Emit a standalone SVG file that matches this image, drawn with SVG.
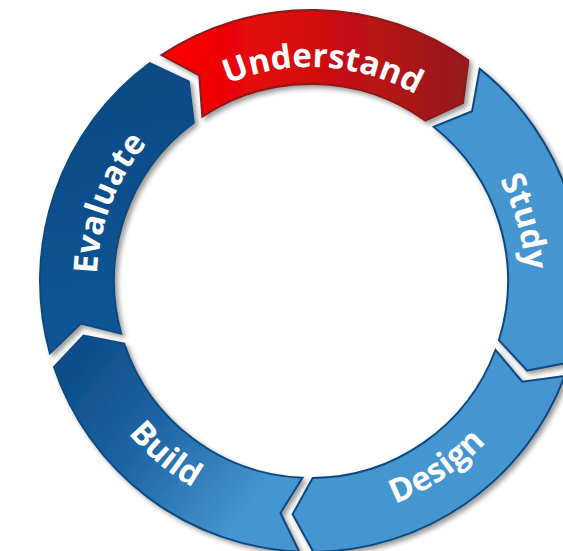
<svg xmlns="http://www.w3.org/2000/svg" width="563" height="551" viewBox="0 0 563 551">
<defs>
<filter id="sh" x="-10%" y="-10%" width="120%" height="120%">
<feDropShadow dx="3" dy="3" stdDeviation="2.5" flood-color="#000" flood-opacity="0.4"/>
</filter>
<linearGradient id="gRed" gradientUnits="userSpaceOnUse" x1="165" y1="0" x2="468" y2="0">
<stop offset="0" stop-color="#FF0000"/>
<stop offset="0.5" stop-color="#D00D10"/>
<stop offset="1" stop-color="#951B1E"/>
</linearGradient>
<linearGradient id="gBuild" gradientUnits="userSpaceOnUse" x1="70" y1="370" x2="250" y2="510">
<stop offset="0" stop-color="#0D4E8A"/>
<stop offset="0.45" stop-color="#1E65A5"/>
<stop offset="1" stop-color="#4596D0"/>
</linearGradient>
<linearGradient id="gEval" gradientUnits="userSpaceOnUse" x1="100" y1="80" x2="160" y2="360">
<stop offset="0" stop-color="#0B4A85"/>
<stop offset="1" stop-color="#125898"/>
</linearGradient>
<path id="tpU" d="M 129.5 167.6 A 214 214 0 0 1 499.9 180.5"/>
<path id="tpS" d="M 366.4 74.3 A 214 214 0 0 1 462.3 432.3"/>
<path id="tpE" d="M 144.7 415.7 A 214 214 0 0 1 277.5 69.6"/>
<path id="tpD" d="M 206.7 494.9 A 238 238 0 0 0 548.4 264.4"/>
<path id="tpB" d="M 76.6 239.7 A 238 238 0 0 0 392.4 504.6"/>
</defs>
<style>
.seg{stroke-width:2;stroke-linejoin:miter;filter:url(#sh)}
.blue{stroke:#0E4A80}
.lbl{font-family:"Open Sans","DejaVu Sans",sans-serif;font-weight:bold;font-size:33px;fill:#fff}
</style>
<g id="connectors"></g>
<g id="understand">
<path class="seg" fill="url(#gRed)" stroke="#8A1A1A" d="M 161.4 55.0 A 271 271 0 0 1 468.4 60.4 L 463.0 103.1 L 425.4 120.6 A 197 197 0 0 0 202.3 116.7 L 199.3 75.4 Z"/>
<text class="lbl" text-anchor="middle"><textPath href="#tpU" startOffset="51%">Understand</textPath></text>
</g>
<g id="study">
<path class="seg blue" fill="#4596D0" d="M 479.7 68.9 A 271 271 0 0 1 569.5 362.5 L 527.2 370.6 L 498.9 340.2 A 197 197 0 0 0 433.6 126.8 L 472.1 111.3 Z"/>
<text class="lbl" text-anchor="middle"><textPath href="#tpS" startOffset="49.5%">Study</textPath></text>
</g>
<g id="design">
<path class="seg blue" fill="#4596D0" d="M 564.8 375.9 A 271 271 0 0 1 313.4 552.0 L 292.6 514.3 L 312.7 478.0 A 197 197 0 0 0 495.5 350.0 L 522.2 381.7 Z"/>
<text class="lbl" text-anchor="middle"><textPath href="#tpD" startOffset="50%">Design</textPath></text>
</g>
<g id="build">
<path class="seg blue" fill="url(#gBuild)" d="M 299.2 551.7 A 271 271 0 0 1 54.0 367.0 L 83.5 335.6 L 124.2 343.5 A 197 197 0 0 0 302.4 477.8 L 280.5 513.0 Z"/>
<text class="lbl" text-anchor="middle"><textPath href="#tpB" startOffset="50%">Build</textPath></text>
</g>
<g id="evaluate">
<path class="seg blue" fill="url(#gEval)" d="M 49.9 353.4 A 271 271 0 0 1 149.8 63.1 L 188.7 81.5 L 193.8 122.6 A 197 197 0 0 0 121.2 333.6 L 80.9 323.6 Z"/>
<text class="lbl" text-anchor="middle"><textPath href="#tpE" startOffset="50%">Evaluate</textPath></text>
</g>
</svg>
